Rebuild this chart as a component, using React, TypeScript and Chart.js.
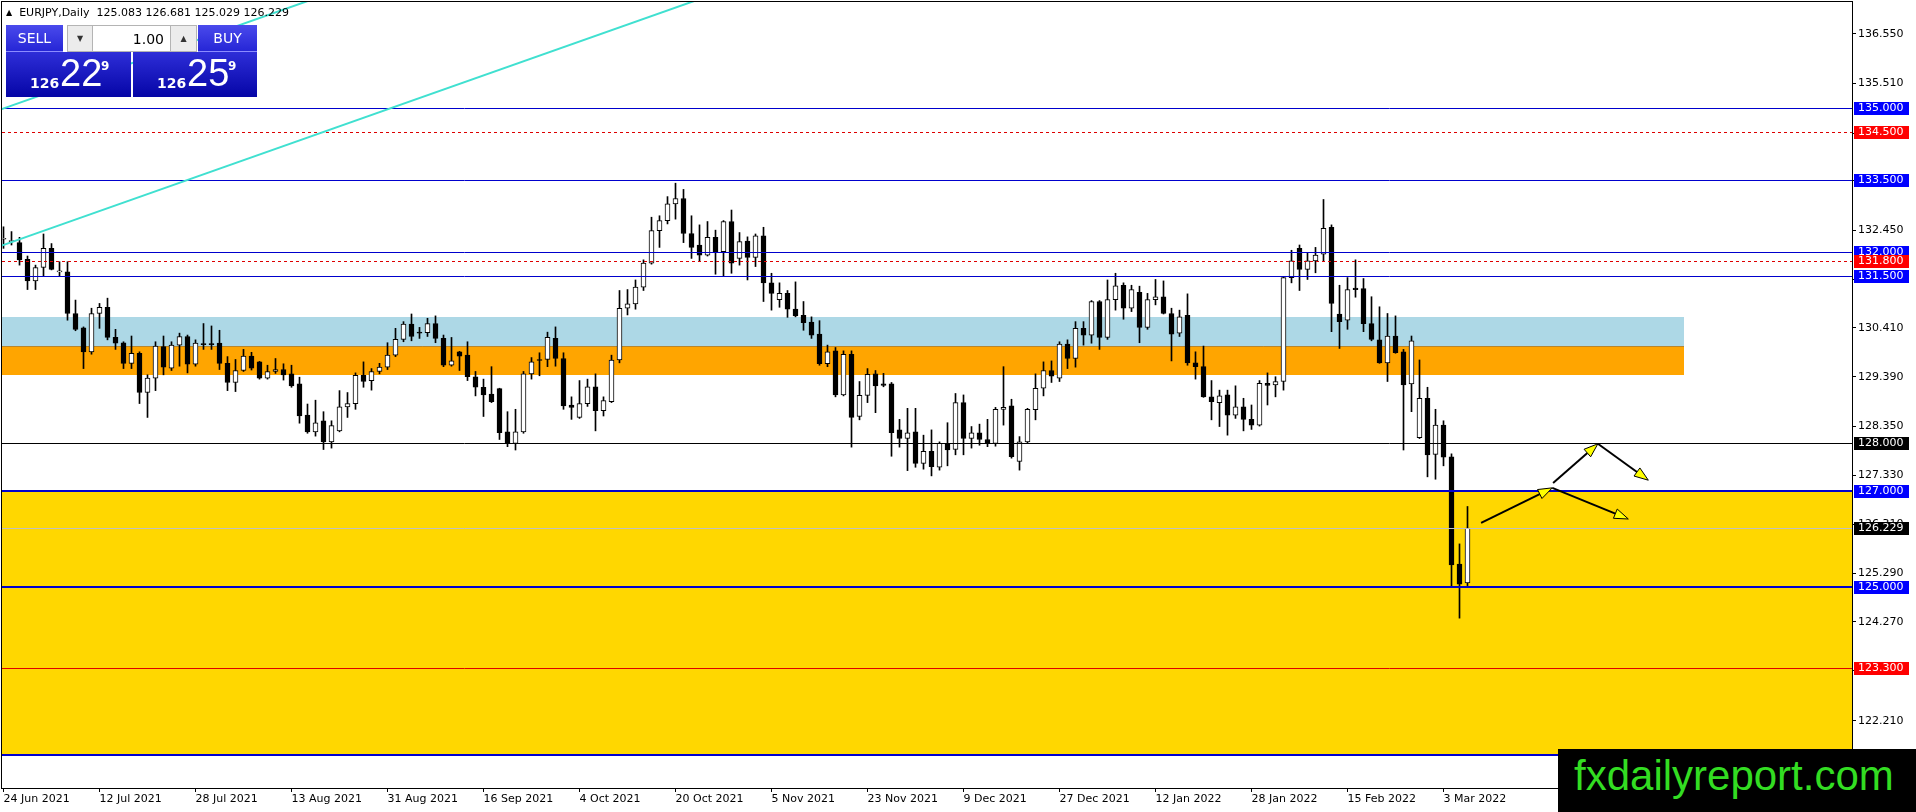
import { useEffect, useRef } from 'react';
import { Chart, registerables } from 'chart.js';

Chart.register(...registerables);

// EURJPY daily candles, 24 Jun 2021 .. 8 Mar 2022 (index = trading day)
const opens = [
  132.26, 132.21, 132.19, 131.84, 131.39, 131.67, 132.07, 131.58, 131.58, 130.71,
  130.41, 129.91, 130.71, 130.84, 130.21, 130.10, 129.67, 129.88, 129.06, 129.36,
  130.02, 129.57, 130.05, 130.23, 129.65, 130.08, 130.08, 130.09, 129.67, 129.27,
  129.52, 129.82, 129.70, 129.36, 129.50, 129.54, 129.45, 129.24, 128.59, 128.24,
  128.47, 128.03, 128.26, 128.76, 128.83, 129.42, 129.31, 129.50, 129.59, 129.84,
  130.17, 130.49, 130.32, 130.31, 130.50, 130.19, 129.63, 129.91, 129.84, 129.39,
  129.17, 129.03, 129.14, 128.24, 128.00, 128.24, 129.45, 129.75, 129.75, 130.19,
  129.77, 128.80, 128.54, 128.83, 129.18, 128.68, 128.87, 129.74, 130.82, 130.91,
  131.26, 131.76, 132.44, 132.65, 133.00, 133.11, 132.38, 132.14, 131.93, 132.30,
  132.00, 132.63, 131.86, 132.22, 131.88, 132.33, 131.35, 131.00, 131.13, 130.80,
  130.67, 130.53, 130.28, 129.66, 129.93, 129.01, 129.86, 128.56, 129.00, 129.45,
  129.24, 129.24, 128.28, 128.10, 128.24, 127.58, 127.83, 127.50, 127.99, 127.87,
  128.85, 128.10, 128.22, 128.08, 128.00, 128.71, 128.78, 127.62, 128.03, 128.70,
  129.15, 129.52, 129.36, 130.07, 129.77, 130.40, 130.26, 130.96, 130.21, 131.00,
  131.30, 130.82, 131.15, 130.42, 131.00, 131.06, 130.71, 130.30, 130.67, 129.68,
  129.60, 128.97, 128.85, 129.01, 128.59, 128.76, 128.50, 128.38, 129.25, 129.22,
  129.29, 131.46, 132.07, 131.63, 131.81, 131.95, 132.51, 130.70, 130.57, 131.24,
  131.23, 130.50, 130.16, 129.68, 130.24, 129.91, 129.24, 128.12, 128.94, 127.77,
  128.38, 127.72, 125.48, 125.083,
];
const highs = [
  132.52, 132.42, 132.30, 131.91, 131.72, 132.37, 132.17, 131.79, 131.79, 130.99,
  130.43, 130.82, 130.92, 131.03, 130.38, 130.12, 130.24, 129.91, 129.43, 130.12,
  130.24, 130.12, 130.30, 130.26, 130.16, 130.50, 130.45, 130.36, 129.81, 129.75,
  129.96, 129.90, 129.71, 129.63, 129.77, 129.66, 129.63, 129.38, 128.82, 128.90,
  128.66, 128.47, 129.10, 129.06, 129.47, 129.70, 129.56, 129.67, 130.10, 130.40,
  130.54, 130.70, 130.42, 130.61, 130.66, 130.26, 130.21, 129.92, 130.12, 129.50,
  129.34, 129.60, 129.15, 128.66, 128.71, 129.50, 129.79, 129.89, 130.32, 130.43,
  129.89, 128.97, 129.31, 129.34, 129.45, 128.97, 129.84, 131.19, 131.21, 131.41,
  131.83, 132.72, 132.75, 133.15, 133.43, 133.30, 132.75, 132.56, 132.63, 132.45,
  132.65, 132.87, 132.40, 132.31, 132.37, 132.51, 131.55, 131.35, 131.19, 131.37,
  130.96, 130.64, 130.56, 130.05, 130.00, 129.93, 129.93, 129.29, 129.56, 129.52,
  129.46, 129.27, 128.50, 128.73, 128.73, 128.17, 128.28, 128.03, 128.43, 129.04,
  129.01, 128.35, 128.40, 128.50, 128.75, 129.60, 128.92, 128.14, 128.73, 129.45,
  129.70, 129.72, 130.12, 130.16, 130.54, 130.54, 130.98, 130.98, 131.41, 131.55,
  131.35, 131.30, 131.28, 131.13, 131.42, 131.39, 130.82, 130.78, 131.12, 129.91,
  130.03, 129.31, 129.11, 129.11, 129.20, 128.94, 128.80, 129.31, 129.47, 129.39,
  131.48, 132.03, 132.14, 131.98, 132.09, 133.09, 132.56, 131.30, 131.46, 131.83,
  131.44, 131.06, 130.85, 130.71, 130.66, 129.96, 130.24, 129.74, 129.17, 128.71,
  128.47, 127.78, 125.90, 126.681,
];
const lows = [
  132.07, 132.14, 131.72, 131.21, 131.21, 131.49, 131.62, 131.49, 130.57, 130.35,
  129.56, 129.86, 130.40, 130.16, 129.96, 129.56, 129.56, 128.83, 128.54, 129.10,
  129.43, 129.52, 129.61, 129.47, 129.61, 129.96, 129.96, 129.54, 129.10, 129.08,
  129.50, 129.53, 129.34, 129.34, 129.46, 129.32, 129.17, 128.42, 128.21, 128.15,
  127.87, 127.90, 128.24, 128.54, 128.71, 129.17, 129.11, 129.45, 129.54, 129.81,
  130.12, 130.14, 130.19, 130.23, 130.10, 129.60, 129.61, 129.52, 129.31, 128.99,
  128.56, 128.85, 128.08, 127.93, 127.86, 128.21, 129.34, 129.41, 129.60, 129.61,
  128.71, 128.50, 128.52, 128.77, 128.26, 128.57, 128.85, 129.68, 130.68, 130.80,
  131.19, 131.74, 132.09, 132.58, 132.68, 132.19, 131.86, 131.81, 131.91, 131.53,
  131.49, 131.55, 131.72, 131.41, 131.69, 130.96, 130.78, 130.84, 130.63, 130.64,
  130.36, 130.19, 129.63, 129.60, 128.97, 128.99, 127.92, 128.49, 128.85, 128.64,
  129.18, 127.73, 127.92, 127.43, 127.50, 127.46, 127.32, 127.44, 127.53, 127.76,
  127.76, 127.90, 127.96, 127.93, 127.94, 128.38, 127.69, 127.44, 128.01, 128.49,
  128.99, 129.27, 129.29, 129.56, 129.59, 130.05, 130.09, 129.96, 130.17, 130.78,
  130.59, 130.75, 130.10, 130.38, 130.89, 130.70, 129.72, 130.23, 129.63, 129.34,
  128.96, 128.49, 128.35, 128.17, 128.52, 128.26, 128.29, 128.36, 128.80, 128.97,
  129.11, 131.35, 131.19, 131.42, 131.56, 131.81, 130.33, 129.98, 130.38, 131.05,
  130.33, 130.14, 129.67, 129.29, 129.88, 127.86, 128.66, 128.10, 127.30, 127.25,
  127.53, 125.00, 124.35, 125.029,
];
const closes = [
  132.28, 132.23, 131.83, 131.39, 131.67, 132.07, 131.63, 131.60, 130.71, 130.38,
  129.91, 130.71, 130.84, 130.21, 130.09, 129.67, 129.88, 129.06, 129.36, 130.03,
  129.59, 130.05, 130.23, 129.65, 130.09, 130.06, 130.06, 129.67, 129.27, 129.52,
  129.82, 129.57, 129.36, 129.50, 129.54, 129.43, 129.20, 128.57, 128.24, 128.43,
  128.03, 128.37, 128.76, 128.83, 129.42, 129.29, 129.50, 129.59, 129.84, 130.17,
  130.49, 130.23, 130.30, 130.50, 130.19, 129.63, 129.72, 129.82, 129.39, 129.17,
  129.01, 128.87, 128.22, 128.00, 128.24, 129.45, 129.70, 129.73, 130.21, 129.77,
  128.78, 128.75, 128.83, 129.18, 128.68, 128.89, 129.74, 130.82, 130.91, 131.26,
  131.76, 132.44, 132.65, 133.00, 133.11, 132.38, 132.09, 131.93, 132.30, 132.00,
  132.63, 131.76, 132.21, 131.88, 132.33, 131.35, 131.13, 131.13, 130.80, 130.66,
  130.52, 130.26, 129.66, 129.91, 129.01, 129.86, 128.54, 129.00, 129.44, 129.20,
  129.21, 128.22, 128.10, 128.22, 127.58, 127.83, 127.51, 128.00, 127.86, 128.85,
  128.10, 128.22, 128.08, 128.00, 128.71, 128.75, 127.72, 128.03, 128.71, 129.15,
  129.52, 129.40, 130.07, 129.77, 130.40, 130.26, 130.96, 130.21, 131.00, 131.29,
  130.82, 131.21, 130.42, 131.00, 131.06, 130.71, 130.28, 130.64, 129.68, 129.60,
  128.97, 128.87, 128.99, 128.59, 128.76, 128.50, 128.38, 129.25, 129.21, 129.29,
  131.46, 131.81, 131.63, 131.81, 131.93, 132.49, 130.92, 130.54, 131.21, 131.21,
  130.50, 130.17, 129.68, 130.24, 129.89, 129.22, 130.14, 128.94, 127.76, 128.38,
  127.71, 125.46, 125.06, 126.229,
];

// date labels, one under every 12th bar
const dateLabels = [
  '24 Jun 2021', '12 Jul 2021', '28 Jul 2021', '13 Aug 2021', '31 Aug 2021', '16 Sep 2021',
  '4 Oct 2021', '20 Oct 2021', '5 Nov 2021', '23 Nov 2021', '9 Dec 2021', '27 Dec 2021',
  '12 Jan 2022', '28 Jan 2022', '15 Feb 2022', '3 Mar 2022',
];
const labelStep = 12;

// price scale tick labels
const priceTicks = [
  136.55, 135.51, 134.47, 133.49, 132.45, 131.43, 130.41, 129.39,
  128.35, 127.33, 126.31, 125.29, 124.27, 123.25, 122.21, 121.19,
];

// horizontal levels
const levelPrices = [135.0, 134.5, 133.5, 132.0, 131.8, 131.5, 128.0, 127.0, 126.229, 125.0, 123.3, 121.5];
const levelLineColors = ['#0000cd', '#dd0000', '#0000cd', '#0000cd', '#dd0000', '#0000cd', '#000000', '#0000cd', '#c0c0c0', '#0000cd', '#e00000', '#0000cd'];
const levelLabelColors = ['#0000ff', '#ff0000', '#0000ff', '#0000ff', '#ff0000', '#0000ff', '#000000', '#0000ff', '#000000', '#0000ff', '#ff0000', '#0000ff'];
const levelWidths = [1, 1, 1, 1, 1, 1, 1, 2, 1, 2, 1, 2];
const levelDashed = [false, true, false, false, true, false, false, false, false, false, false, false];

// filled zones (price top/bottom, bar index where they end; null = to the right edge)
const zoneTops = [127.0, 130.637, 130.031];
const zoneBottoms = [121.5, 130.031, 129.426];
const zoneEnds: (number | null)[] = [null, 210, 210];
const zoneColors = ['#ffd700', '#add8e6', '#ffa500'];

// channel trend lines (bar index, price)
const trendX1 = [-0.5, -0.5];
const trendY1 = [132.11, 134.96];
const trendX2 = [100, 100];
const trendY2 = [138.04, 140.89];

// projection arrows
const arrowX1 = [184.7, 193.6, 193.7, 199.3];
const arrowY1 = [126.34, 127.07, 127.17, 127.99];
const arrowX2 = [193.6, 203.1, 199.3, 205.6];
const arrowY2 = [127.07, 126.42, 127.99, 127.23];

const FONT = 'DejaVu Sans';

const mt4Objects = {
  id: 'mt4Objects',
  beforeDatasetsDraw(chart: any) {
    const { ctx, chartArea: a, scales } = chart;
    const x = scales.x;
    const y = scales.y;
    ctx.save();
    ctx.beginPath();
    ctx.rect(a.left, a.top, a.right - a.left, a.bottom - a.top);
    ctx.clip();
    zoneTops.forEach((top, k) => {
      const y1 = Math.round(y.getPixelForValue(top));
      const y2 = Math.round(y.getPixelForValue(zoneBottoms[k]));
      const end = zoneEnds[k];
      const x2 = end === null ? a.right : Math.round(x.getPixelForValue(end));
      ctx.fillStyle = zoneColors[k];
      ctx.fillRect(a.left, y1, x2 - a.left, y2 - y1);
    });
    // thin edge between the light blue and orange boxes
    const yb = Math.round(y.getPixelForValue(zoneBottoms[1])) + 0.5;
    ctx.strokeStyle = '#b8862e';
    ctx.lineWidth = 1;
    ctx.beginPath();
    ctx.moveTo(a.left, yb);
    ctx.lineTo(Math.round(x.getPixelForValue(zoneEnds[1] as number)), yb);
    ctx.stroke();
    ctx.restore();
  },
  afterDatasetsDraw(chart: any) {
    const { ctx, chartArea: a, scales } = chart;
    const x = scales.x;
    const y = scales.y;
    ctx.save();
    ctx.beginPath();
    ctx.rect(a.left, a.top, a.right - a.left, a.bottom - a.top);
    ctx.clip();

    levelPrices.forEach((p, k) => {
      const w = levelWidths[k];
      const py = w === 1 ? Math.round(y.getPixelForValue(p)) + 0.5 : Math.round(y.getPixelForValue(p));
      ctx.strokeStyle = levelLineColors[k];
      ctx.lineWidth = w;
      ctx.setLineDash(levelDashed[k] ? [3, 3] : []);
      ctx.beginPath();
      ctx.moveTo(a.left, py);
      ctx.lineTo(a.right, py);
      ctx.stroke();
    });
    ctx.setLineDash([]);

    ctx.strokeStyle = '#40e0d0';
    ctx.lineWidth = 2;
    trendX1.forEach((tx, k) => {
      ctx.beginPath();
      ctx.moveTo(x.getPixelForValue(tx), y.getPixelForValue(trendY1[k]));
      ctx.lineTo(x.getPixelForValue(trendX2[k]), y.getPixelForValue(trendY2[k]));
      ctx.stroke();
    });

    arrowX1.forEach((ax, k) => {
      const x1 = x.getPixelForValue(ax);
      const y1 = y.getPixelForValue(arrowY1[k]);
      const x2 = x.getPixelForValue(arrowX2[k]);
      const y2 = y.getPixelForValue(arrowY2[k]);
      const ang = Math.atan2(y2 - y1, x2 - x1);
      const len = 14;
      const half = 5;
      const bx = x2 - len * Math.cos(ang);
      const by = y2 - len * Math.sin(ang);
      ctx.strokeStyle = '#000';
      ctx.lineWidth = 2;
      ctx.beginPath();
      ctx.moveTo(x1, y1);
      ctx.lineTo(bx, by);
      ctx.stroke();
      ctx.beginPath();
      ctx.moveTo(x2, y2);
      ctx.lineTo(bx + half * Math.sin(ang), by - half * Math.cos(ang));
      ctx.lineTo(bx - half * Math.sin(ang), by + half * Math.cos(ang));
      ctx.closePath();
      ctx.fillStyle = '#ffff00';
      ctx.fill();
      ctx.lineWidth = 1;
      ctx.stroke();
    });
    ctx.restore();
  },
  afterDraw(chart: any) {
    const { ctx, chartArea: a, scales } = chart;
    const y = scales.y;
    ctx.save();
    ctx.font = `11px "${FONT}"`;
    ctx.textBaseline = 'middle';
    ctx.textAlign = 'left';
    levelPrices.forEach((p, k) => {
      const py = Math.round(y.getPixelForValue(p));
      ctx.fillStyle = levelLabelColors[k];
      ctx.fillRect(a.right + 2, py - 6, 55, 13);
      ctx.fillStyle = '#ffffff';
      ctx.fillText(p.toFixed(3), a.right + 6, py + 0.5);
    });
    ctx.strokeStyle = '#000';
    ctx.lineWidth = 1;
    ctx.strokeRect(a.left - 0.5, a.top - 0.5, a.right - a.left + 1, a.bottom - a.top + 1);
    ctx.restore();
  },
};

const MT4Chart = () => {
  const chartRef = useRef<HTMLCanvasElement>(null);
  const chartInstance = useRef<Chart | null>(null);

  useEffect(() => {
    if (!chartRef.current) return;
    if (chartInstance.current) chartInstance.current.destroy();
    const ctx = chartRef.current.getContext('2d');
    if (!ctx) return;

    const bodies = opens.map((o, i) => ({ x: i, y: [o, closes[i]] }));
    const wicks = lows.map((l, i) => ({ x: i, y: [l, highs[i]] }));

    chartInstance.current = new Chart(ctx, {
      type: 'bar',
      data: {
        datasets: [
          {
            label: 'body',
            data: bodies as any,
            backgroundColor: opens.map((o, i) => (closes[i] >= o ? '#ffffff' : '#000000')),
            borderColor: '#000000',
            borderWidth: 1,
            borderSkipped: false,
            barThickness: 5,
            grouped: false,
          },
          {
            label: 'wick',
            data: wicks as any,
            backgroundColor: '#000000',
            borderWidth: 0,
            barThickness: 1,
            grouped: false,
          },
        ],
      },
      options: {
        animation: false,
        responsive: false,
        events: [],
        layout: { padding: { left: 2, top: 2, right: 0, bottom: 0 } },
        plugins: {
          legend: { display: false },
          tooltip: { enabled: false },
        },
        scales: {
          x: {
            type: 'linear',
            bounds: 'data',
            offset: false,
            min: -0.1875,
            max: 231.0625,
            grid: { drawOnChartArea: false, drawTicks: true, tickLength: 4, color: '#000', offset: false },
            border: { display: false },
            ticks: {
              autoSkip: false,
              maxRotation: 0,
              minRotation: 0,
              align: 'start',
              padding: 1,
              color: '#000',
              font: { family: FONT, size: 11 },
              callback: (v: any) => dateLabels[Math.round(Number(v) / labelStep)] ?? '',
            },
            afterBuildTicks: (s: any) => {
              s.ticks = dateLabels.map((_, k) => ({ value: k * labelStep }));
            },
            afterFit: (s: any) => {
              s.height = 24;
              s.paddingLeft = 0;
              s.paddingRight = 0;
            },
          },
          y: {
            type: 'linear',
            position: 'right',
            bounds: 'data',
            min: 120.804,
            max: 137.213,
            grid: { drawOnChartArea: false, drawTicks: true, tickLength: 4, color: '#000' },
            border: { display: false },
            ticks: {
              padding: 2,
              color: '#000',
              font: { family: FONT, size: 11 },
              callback: (v: any) => Number(v).toFixed(3),
            },
            afterBuildTicks: (s: any) => {
              s.ticks = priceTicks.map((v) => ({ value: v }));
            },
            afterFit: (s: any) => {
              s.width = 64;
              s.paddingTop = 0;
              s.paddingBottom = 0;
            },
          },
        },
      },
      plugins: [mt4Objects],
    });

    return () => {
      if (chartInstance.current) {
        chartInstance.current.destroy();
        chartInstance.current = null;
      }
    };
  }, []);

  return <canvas ref={chartRef} width={1916} height={812} style={{ display: 'block' }} />;
};

const blueTop = 'linear-gradient(#4a4aec, #2626d6)';
const blueBig = 'linear-gradient(#2e2ed8, #0505a6)';
const grayCell = {
  position: 'absolute' as const,
  top: 25,
  height: 27,
  background: '#ececec',
  border: '1px solid #b4b4b4',
  boxSizing: 'border-box' as const,
  fontFamily: FONT,
  color: '#333',
  display: 'flex',
  alignItems: 'center',
  justifyContent: 'center',
};

const TradePanel = () => (
  <>
    <div style={{ position: 'absolute', left: 6, top: 25, width: 57, height: 27, background: blueTop, color: '#fff', font: `14px "${FONT}"`, display: 'flex', alignItems: 'center', justifyContent: 'center', borderBottom: '1px solid #8c8cff', boxSizing: 'border-box' }}>SELL</div>
    <div style={{ ...grayCell, left: 67, width: 26, fontSize: 8 }}>▼</div>
    <div style={{ ...grayCell, left: 92, width: 79, background: '#fff', justifyContent: 'flex-end', paddingRight: 6, fontSize: 14, color: '#000' }}>1.00</div>
    <div style={{ ...grayCell, left: 170, width: 27, fontSize: 8 }}>▲</div>
    <div style={{ position: 'absolute', left: 198, top: 25, width: 59, height: 27, background: blueTop, color: '#fff', font: `14px "${FONT}"`, display: 'flex', alignItems: 'center', justifyContent: 'center', borderBottom: '1px solid #8c8cff', boxSizing: 'border-box' }}>BUY</div>
    {[{ left: 6, width: 125, pips: '22' }, { left: 133, width: 124, pips: '25' }].map((b) => (
      <div key={b.left} style={{ position: 'absolute', left: b.left, top: 52, width: b.width, height: 45, background: blueBig, color: '#fff' }}>
        <span style={{ position: 'absolute', left: 24, top: 23, font: `bold 14px "${FONT}"` }}>126</span>
        <span style={{ position: 'absolute', left: 54, top: -1, font: `38px "Liberation Sans Narrow", "Liberation Sans"`, lineHeight: '44px' }}>{b.pips}</span>
        <span style={{ position: 'absolute', left: 95, top: 7, font: `bold 12px "${FONT}"` }}>9</span>
      </div>
    ))}
  </>
);

const App = () => (
  <div style={{ position: 'fixed', left: 0, top: 0, width: 1916, height: 812, background: '#fff', overflow: 'hidden' }}>
    <MT4Chart />
    <div style={{ position: 'absolute', left: 6, top: 5, font: `11px "${FONT}"`, color: '#000', whiteSpace: 'pre', lineHeight: '16px' }}>
      <span style={{ fontSize: 8, position: 'relative', top: -1 }}>▲</span>
      {'  EURJPY,Daily  125.083 126.681 125.029 126.229'}
    </div>
    <TradePanel />
    <div style={{ position: 'absolute', left: 1558, top: 749, width: 358, height: 63, background: '#000' }}>
      <span style={{ position: 'absolute', left: 16, top: 6, font: '42px "Liberation Sans"', lineHeight: '42px', color: '#33dd22', whiteSpace: 'nowrap' }}>fxdailyreport.com</span>
    </div>
  </div>
);

export default App;
